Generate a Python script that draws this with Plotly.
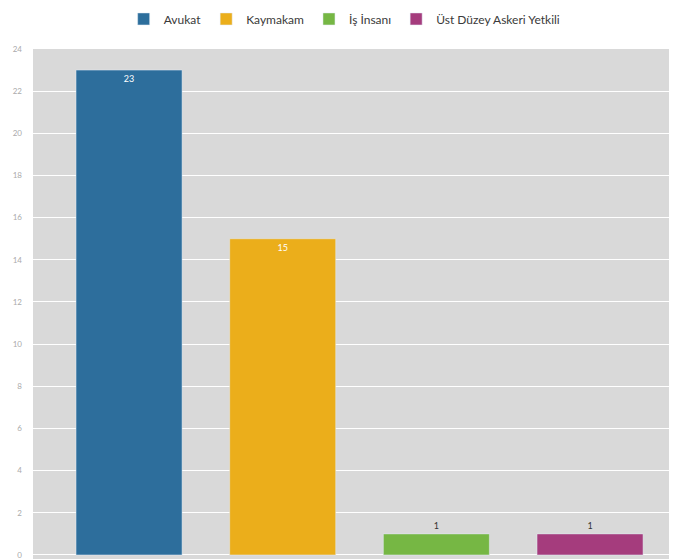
import plotly.graph_objects as go

categories = ["Avukat", "Kaymakam", "İş İnsanı", "Üst Düzey Askeri Yetkili"]
values = [23, 15, 1, 1]
colors = ["#2d6e9c", "#ebae1b", "#76b744", "#a53c7d"]
y_ticks = list(range(0, 25, 2))

fig = go.Figure()
for cat, val, col in zip(categories, values, colors):
    big = val > 5
    fig.add_trace(go.Bar(
        x=[cat], y=[val], name=cat, marker_color=col, width=0.69,
        text=[str(val)], textposition="inside" if big else "outside",
        insidetextanchor="end",
        textfont=dict(size=9, color="white" if big else "#333333", family="Lato"),
        cliponaxis=False,
    ))

fig.update_layout(
    width=677, height=559,
    barmode="overlay",
    plot_bgcolor="#d9d9d9", paper_bgcolor="white",
    margin=dict(l=25, r=0, t=41, b=0, autoexpand=False),
    font=dict(family="Lato", size=9, color="#555555"),
    legend=dict(orientation="h", x=0.478, xanchor="center", y=1.058, yanchor="middle",
                font=dict(size=12, color="#3a3a3a"), traceorder="normal",
                itemclick=False, itemwidth=30),
    xaxis=dict(showticklabels=False, range=[-0.625, 3.618], showgrid=False, zeroline=False),
    yaxis=dict(range=[-0.57, 24], tickvals=y_ticks, gridcolor="white", gridwidth=1,
               zeroline=False, tickfont=dict(size=8, color="#aaaaaa"), ticklen=0,
               ticklabelstandoff=10),
    uniformtext=dict(minsize=8, mode="show"),
)
fig.write_html("out.html")
